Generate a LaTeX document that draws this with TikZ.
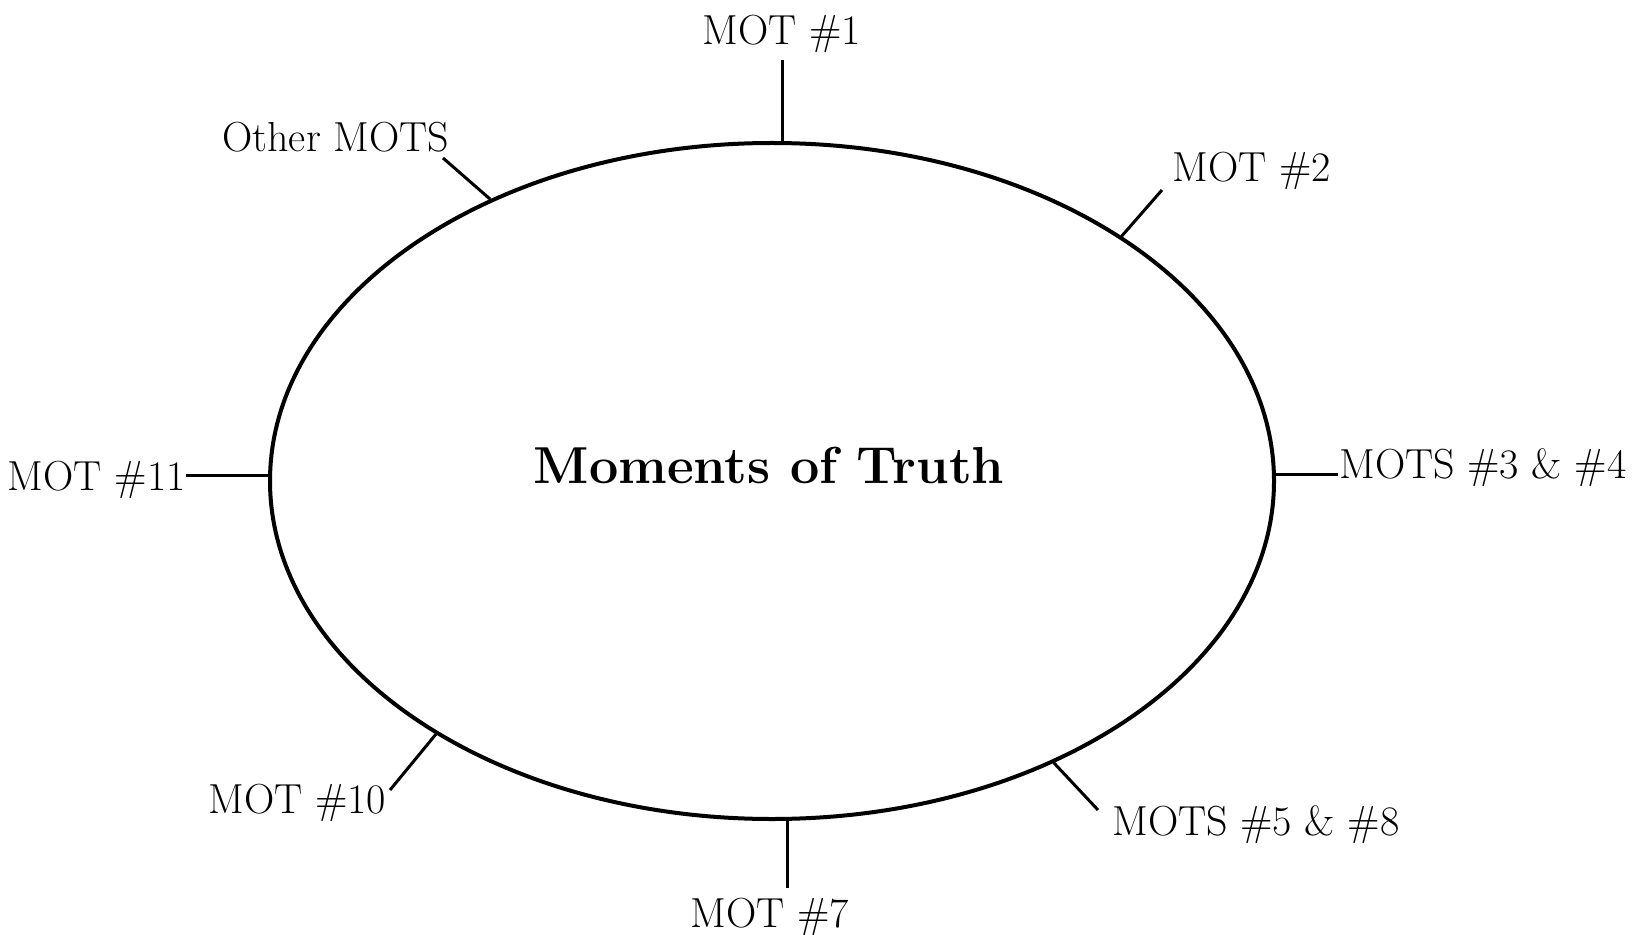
\documentclass[tikz,border=0pt]{standalone}
\usetikzlibrary{shapes.geometric}
\begin{document}
\begin{tikzpicture}[x=0.5pt,y=-0.5pt,
  lbl/.style={anchor=base west,inner sep=0pt,font=\fontsize{21}{25}\selectfont},
  tick/.style={line width=1.5pt},
  ring/.style={draw,ellipse,line width=2pt,minimum width=502pt,minimum height=338pt,inner sep=0pt}]
\useasboundingbox (0,0) rectangle (1647,935);
\node[ring] (E) at (772,481) {};
\node[anchor=base,inner sep=0pt,font=\fontsize{26}{30}\selectfont\bfseries] (T) at (769,483) {Moments of Truth};
% labels
\node[lbl,anchor=base] (L1) at (782,45) {MOT \#1};
\node[lbl] (LO) at (222,152) {Other MOTS};
\node[lbl] (L2) at (1172,182) {MOT \#2};
\node[lbl,anchor=base east] (L11) at (186,490) {MOT \#11};
\node[lbl] (L34) at (1339,478) {MOTS \#3 \& \#4};
\node[lbl] (L10) at (208,813) {MOT \#10};
\node[lbl] (L58) at (1112,835) {MOTS \#5 \& \#8};
\node[lbl,anchor=base] (L7) at (770,927) {MOT \#7};
% free ends
\coordinate (t1) at (782,60);
\coordinate (tO) at (443,158);
\coordinate (t2) at (1162,190);
\coordinate (t11) at (186,475);
\coordinate (t34) at (1338,474);
\coordinate (t10) at (390,790);
\coordinate (t58) at (1098,810);
\coordinate (t7) at (787,888);
% connectors
\draw[tick] (t1 |- E.north) -- (t1);
\draw[tick] (E.135.6) -- (tO);
\draw[tick] (E.35.6) -- (t2);
\draw[tick] (t11 -| E.west) -- (t11);
\draw[tick] (t34 -| E.east) -- (t34);
\draw[tick] (E.217.6) -- (t10);
\draw[tick] (E.-45.4) -- (t58);
\draw[tick] (t7 |- E.south) -- (t7);
\end{tikzpicture}
\end{document}
